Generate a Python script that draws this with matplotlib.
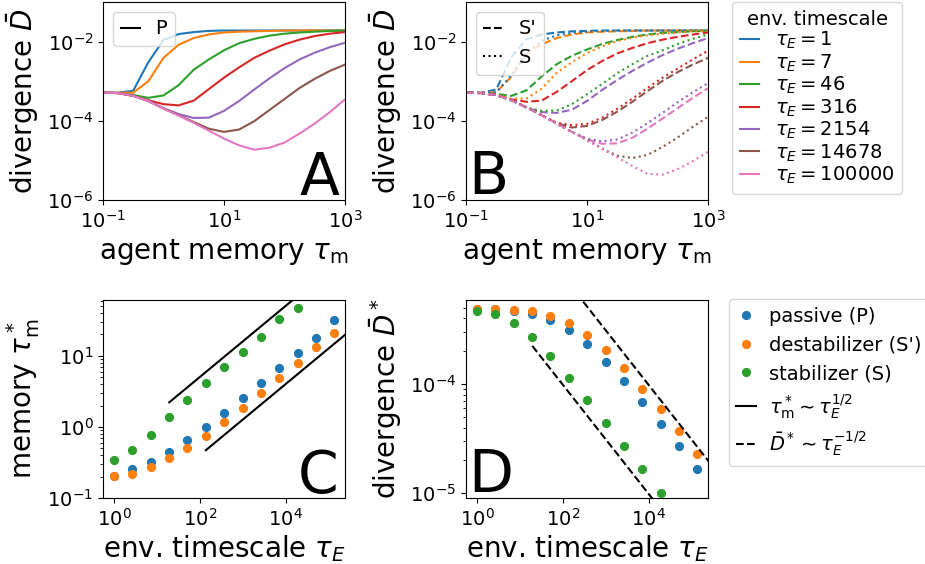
import numpy as np
import matplotlib
matplotlib.use("Agg")
import matplotlib.pyplot as plt
from matplotlib.lines import Line2D
from matplotlib.ticker import FixedLocator, NullLocator

# ---------------- data: panels A and B (log10 of divergence) ----------------
tau_m = [0.1, 0.178, 0.316, 0.562, 1.0, 1.78, 3.16, 5.62, 10, 17.8, 31.6, 56.2,
         100, 178, 316, 562, 1000]
tau_E_labels = ["1", "7", "46", "316", "2154", "14678", "100000"]

# passive (P) -- panel A
P_1 = [-3.29, -3.29, -3.24, -2.52, -1.96, -1.81, -1.76, -1.73, -1.72, -1.72, -1.72, -1.72, -1.72, -1.72, -1.72, -1.72, -1.72]
P_7 = [-3.29, -3.29, -3.29, -3.00, -2.41, -2.08, -1.91, -1.82, -1.77, -1.75, -1.74, -1.73, -1.72, -1.72, -1.72, -1.72, -1.72]
P_46 = [-3.29, -3.30, -3.35, -3.42, -3.36, -3.10, -2.71, -2.45, -2.22, -2.04, -1.93, -1.85, -1.80, -1.77, -1.75, -1.73, -1.72]
P_316 = [-3.29, -3.30, -3.37, -3.48, -3.58, -3.61, -3.49, -3.20, -2.91, -2.65, -2.41, -2.23, -2.07, -1.95, -1.86, -1.80, -1.76]
P_2154 = [-3.29, -3.30, -3.37, -3.50, -3.68, -3.83, -3.93, -3.92, -3.75, -3.50, -3.21, -2.93, -2.67, -2.45, -2.28, -2.14, -2.03]
P_14678 = [-3.29, -3.30, -3.37, -3.50, -3.69, -3.86, -4.03, -4.20, -4.28, -4.22, -4.01, -3.73, -3.45, -3.17, -2.94, -2.74, -2.58]
P_100000 = [-3.29, -3.30, -3.37, -3.50, -3.69, -3.87, -4.05, -4.25, -4.45, -4.62, -4.73, -4.68, -4.55, -4.32, -4.07, -3.78, -3.46]

# destabilizer (S') -- panel B dashed
Sp_1 = [-3.29, -3.29, -3.21, -2.39, -1.94, -1.82, -1.77, -1.74, -1.73, -1.72, -1.72, -1.72, -1.72, -1.72, -1.72, -1.72, -1.72]
Sp_7 = [-3.29, -3.29, -3.28, -2.89, -2.31, -2.07, -1.91, -1.82, -1.77, -1.75, -1.74, -1.73, -1.72, -1.72, -1.72, -1.72, -1.72]
Sp_46 = [-3.29, -3.30, -3.32, -3.37, -3.23, -2.88, -2.57, -2.36, -2.20, -2.06, -1.96, -1.88, -1.82, -1.78, -1.76, -1.74, -1.72]
Sp_316 = [-3.29, -3.30, -3.35, -3.46, -3.52, -3.49, -3.27, -3.00, -2.72, -2.49, -2.30, -2.16, -2.04, -1.95, -1.88, -1.82, -1.77]
Sp_2154 = [-3.29, -3.30, -3.35, -3.48, -3.67, -3.78, -3.80, -3.72, -3.50, -3.22, -2.97, -2.74, -2.53, -2.34, -2.18, -2.04, -1.91]
Sp_14678 = [-3.29, -3.30, -3.35, -3.48, -3.66, -3.86, -4.06, -4.17, -4.13, -3.98, -3.77, -3.52, -3.25, -2.99, -2.77, -2.58, -2.41]
Sp_100000 = [-3.29, -3.30, -3.35, -3.48, -3.66, -3.86, -4.07, -4.28, -4.47, -4.58, -4.57, -4.43, -4.20, -3.94, -3.68, -3.42, -3.18]

# stabilizer (S) -- panel B dotted
S_1 = [-3.29, -3.29, -3.28, -2.85, -2.30, -1.98, -1.84, -1.78, -1.75, -1.73, -1.72, -1.72, -1.72, -1.72, -1.72, -1.72, -1.72]
S_7 = [-3.29, -3.30, -3.34, -3.44, -3.44, -3.19, -2.79, -2.52, -2.29, -2.12, -1.99, -1.90, -1.84, -1.80, -1.77, -1.74, -1.73]
S_46 = [-3.29, -3.30, -3.35, -3.48, -3.67, -3.75, -3.74, -3.58, -3.33, -3.07, -2.80, -2.57, -2.36, -2.22, -2.06, -1.93, -1.82]
S_316 = [-3.29, -3.30, -3.35, -3.48, -3.66, -3.86, -4.05, -4.11, -4.08, -3.92, -3.70, -3.44, -3.17, -2.91, -2.68, -2.45, -2.23]
S_2154 = [-3.29, -3.30, -3.35, -3.48, -3.66, -3.86, -4.07, -4.28, -4.45, -4.52, -4.47, -4.30, -4.06, -3.80, -3.53, -3.28, -3.05]
S_14678 = [-3.29, -3.30, -3.35, -3.48, -3.66, -3.86, -4.07, -4.28, -4.48, -4.70, -4.88, -4.94, -4.86, -4.66, -4.42, -4.15, -3.90]
S_100000 = [-3.29, -3.30, -3.35, -3.48, -3.66, -3.86, -4.07, -4.28, -4.50, -4.71, -4.92, -5.14, -5.34, -5.36, -5.22, -5.02, -4.78]

# ---------------- data: panels C and D ----------------
tau_E = [1, 2.68, 7.18, 19.2, 51.5, 138, 370, 994, 2660, 7120, 19050, 50900, 136000]
mem_passive = [0.201, 0.252, 0.323, 0.447, 0.650, 1.0, 1.59, 2.55, 4.18, 6.79, 11.1, 18.1, 32.0]
mem_destab = [0.201, 0.217, 0.272, 0.360, 0.502, 0.740, 1.16, 1.85, 3.00, 4.86, 7.98, 13.1, 20.8]
mem_stab = [0.341, 0.476, 0.773, 1.38, 2.42, 4.14, 6.86, 11.2, 18.3, 32.7, 47.1]

div_passive = [4.86e-4, 4.83e-4, 4.70e-4, 4.41e-4, 3.86e-4, 3.13e-4, 2.32e-4, 1.60e-4,
               1.06e-4, 6.81e-5, 4.29e-5, 2.69e-5, 1.68e-5]
div_destab = [4.93e-4, 4.93e-4, 4.80e-4, 4.63e-4, 4.23e-4, 3.62e-4, 2.84e-4, 2.06e-4,
              1.41e-4, 9.12e-5, 5.87e-5, 3.70e-5, 2.30e-5]
div_stab = [4.70e-4, 4.35e-4, 3.67e-4, 2.72e-4, 1.81e-4, 1.15e-4, 7.14e-5, 4.41e-5,
            2.70e-5, 1.67e-5, 1.0e-5]

# guide lines (end points)
guideC_up_x, guideC_up_y = [19.5, 2.0e4], [2.22, 71.1]
guideC_lo_x, guideC_lo_y = [139, 3.0e5], [0.471, 21.9]
guideD_up_x, guideD_up_y = [100, 3.0e5], [9.86e-4, 1.8e-5]
guideD_lo_x, guideD_lo_y = [19.5, 2.0e4], [2.24e-4, 7.0e-6]

colors = ["C0", "C1", "C2", "C3", "C4", "C5", "C6"]
P_all = [P_1, P_7, P_46, P_316, P_2154, P_14678, P_100000]
Sp_all = [Sp_1, Sp_7, Sp_46, Sp_316, Sp_2154, Sp_14678, Sp_100000]
S_all = [S_1, S_7, S_46, S_316, S_2154, S_14678, S_100000]

TICK = 14
LAB = 20
LEG = 14
LET = 42

plt.rcParams["xtick.labelsize"] = TICK
plt.rcParams["ytick.labelsize"] = TICK
plt.rcParams["legend.fontsize"] = LEG
plt.rcParams["legend.handlelength"] = 1.0

W, H = 925, 564
fig = plt.figure(figsize=(W / 100, H / 100), dpi=100)

def box(l, t, r, b):
    return [l / W, 1 - b / H, (r - l) / W, (b - t) / H]

axA = fig.add_axes(box(103, 2, 345, 200))
axB = fig.add_axes(box(466, 2, 708, 200))
axC = fig.add_axes(box(103, 300, 345, 498))
axD = fig.add_axes(box(466, 300, 708, 498))

def top_axes(ax):
    ax.set_xscale("log"); ax.set_yscale("log")
    ax.set_xlim(0.1, 1000); ax.set_ylim(1e-6, 1e-1)
    ax.xaxis.set_major_locator(FixedLocator([0.1, 10, 1000]))
    ax.yaxis.set_major_locator(FixedLocator([1e-6, 1e-4, 1e-2]))
    ax.xaxis.set_minor_locator(NullLocator())
    ax.yaxis.set_minor_locator(NullLocator())
    ax.set_xlabel(r"agent memory $\tau_\mathrm{m}$", fontsize=LAB)
    ax.set_ylabel(r"divergence $\bar{D}$", fontsize=LAB)

# Panel A
envh = []
for ys, c, lab in zip(P_all, colors, tau_E_labels):
    h, = axA.plot(tau_m, 10 ** np.array(ys), color=c, lw=1.5,
                  label=r"$\tau_E = %s$" % lab)
    envh.append(h)
top_axes(axA)
axA.legend([Line2D([], [], color="k", lw=1.5)], ["P"], loc="upper left")
axA.text(0.975, 0.025, "A", transform=axA.transAxes, fontsize=LET,
         ha="right", va="baseline")

# Panel B
for ys, c in zip(Sp_all, colors):
    axB.plot(tau_m, 10 ** np.array(ys), color=c, lw=1.5, ls="--")
for ys, c in zip(S_all, colors):
    axB.plot(tau_m, 10 ** np.array(ys), color=c, lw=1.5, ls=":")
top_axes(axB)
legB = axB.legend([Line2D([], [], color="k", lw=1.5, ls="--"),
                   Line2D([], [], color="k", lw=1.5, ls=":")], ["S'", "S"],
                  loc="upper left")
axB.add_artist(legB)
axB.text(0.01, 0.03, "B", transform=axB.transAxes, fontsize=LET,
         ha="left", va="baseline")
axB.legend(envh, [h.get_label() for h in envh], title="env. timescale",
           title_fontsize=LEG, loc="upper left", bbox_to_anchor=(1.099, 1.0),
           borderaxespad=0, labelspacing=0.06)

def bottom_axes(ax):
    ax.set_xscale("log"); ax.set_yscale("log")
    ax.set_xlim(0.555, 2.43e5)
    ax.xaxis.set_major_locator(FixedLocator([1, 100, 1e4]))
    ax.xaxis.set_minor_locator(NullLocator())
    ax.set_xlabel(r"env. timescale $\tau_E$", fontsize=LAB, labelpad=2.5)

# Panel C
ms = 5.6
axC.plot(tau_E, mem_passive, "o", color="C0", ms=ms)
axC.plot(tau_E, mem_destab, "o", color="C1", ms=ms)
axC.plot(tau_E[:len(mem_stab)], mem_stab, "o", color="C2", ms=ms)
axC.plot(guideC_up_x, guideC_up_y, "k-", lw=1.5)
axC.plot(guideC_lo_x, guideC_lo_y, "k-", lw=1.5)
bottom_axes(axC)
axC.set_ylim(0.1, 61)
axC.set_ylabel(r"memory $\tau_\mathrm{m}^*$", fontsize=LAB)
axC.text(0.975, 0.025, "C", transform=axC.transAxes, fontsize=LET,
         ha="right", va="baseline")

# Panel D
axD.plot(tau_E, div_passive, "o", color="C0", ms=ms)
axD.plot(tau_E, div_destab, "o", color="C1", ms=ms)
axD.plot(tau_E[:len(div_stab)], div_stab, "o", color="C2", ms=ms)
axD.plot(guideD_up_x, guideD_up_y, "k--", lw=1.5)
axD.plot(guideD_lo_x, guideD_lo_y, "k--", lw=1.5)
bottom_axes(axD)
axD.set_ylim(9.06e-6, 5.9e-4)
axD.set_ylabel(r"divergence $\bar{D}^*$", fontsize=LAB)
axD.text(0.01, 0.03, "D", transform=axD.transAxes, fontsize=LET,
         ha="left", va="baseline")

hs = [Line2D([], [], marker="o", ls="", color="C0", ms=ms),
      Line2D([], [], marker="o", ls="", color="C1", ms=ms),
      Line2D([], [], marker="o", ls="", color="C2", ms=ms),
      Line2D([], [], color="k", lw=1.5),
      Line2D([], [], color="k", lw=1.5, ls="--")]
ls_ = ["passive (P)", "destabilizer (S')", "stabilizer (S)",
       r"$\tau_\mathrm{m}^* \sim \tau_E^{1/2}$",
       r"$\bar{D}^* \sim \tau_E^{-1/2}$"]
axD.legend(hs, ls_, loc="upper left", bbox_to_anchor=(1.085, 1.005),
           borderaxespad=0, handletextpad=0.7)

fig.savefig("out.png", dpi=100)
